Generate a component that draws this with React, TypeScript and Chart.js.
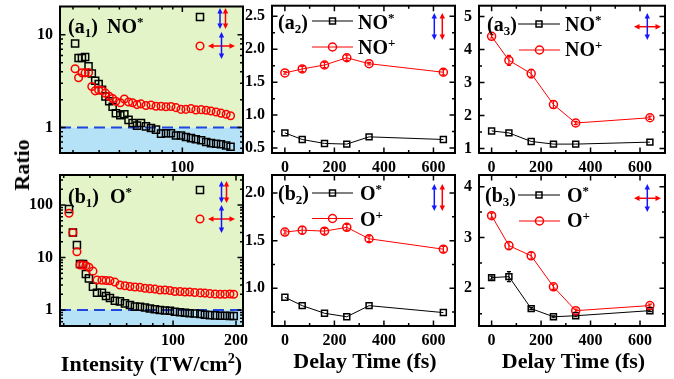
import React, { useEffect, useRef } from 'react';
import { Chart, registerables } from 'chart.js';

Chart.register(...registerables);

// ---------------- data ----------------
// (a1) NO* / NO+ vs intensity (TW/cm^2)
const a1Intensity = [30.7, 31.9, 33.1, 34.3, 35.6, 36.9, 38.3, 39.8, 41.3, 42.9, 44.7, 46.4, 48.1, 50.5, 52.8, 55.3, 57.8, 60.7, 63.4, 67.0, 70.8, 74.8, 79.1, 83.5, 88.2, 93.2, 98.5, 104, 110, 116, 123, 130, 137, 145, 153, 162, 170];
const a1NOstar = [8.05, 5.63, 5.63, 5.77, 4.57, 3.82, 3.2, 2.95, 2.55, 2.17, 1.92, 1.68, 1.43, 1.36, 1.39, 1.21, 1.12, 1.05, 1.12, 1.03, 0.99, 0.95, 0.86, 0.87, 0.87, 0.82, 0.82, 0.79, 0.77, 0.75, 0.73, 0.7, 0.68, 0.67, 0.66, 0.64, 0.62];
const a1NOplus = [4.31, 3.44, 3.89, 3.89, 3.91, 2.77, 2.49, 2.54, 2.51, 2.35, 2.17, 2.06, 1.92, 1.85, 2.03, 1.89, 1.85, 1.77, 1.8, 1.73, 1.75, 1.7, 1.7, 1.68, 1.69, 1.64, 1.57, 1.57, 1.6, 1.55, 1.56, 1.54, 1.51, 1.47, 1.43, 1.39, 1.34];

// (b1) O* / O+ vs intensity
const b1Intensity = [31.8, 33.2, 34.7, 35.9, 37.1, 38.3, 39.6, 41.4, 43.3, 45.7, 47.8, 49.9, 52.7, 55.7, 58.9, 62.2, 65.7, 69.5, 73.4, 77.5, 81.9, 86.5, 91.5, 96.6, 102, 108, 114, 120, 127, 135, 142, 150, 159, 168, 177, 187, 195];
const b1Ostar = [84, 30, 17.3, 7.5, 7.5, 4.85, 4.0, 2.78, 2.14, 2.14, 1.85, 1.7, 1.5, 1.46, 1.34, 1.25, 1.16, 1.15, 1.12, 1.07, 1.03, 1.0, 0.98, 0.97, 0.93, 0.91, 0.89, 0.87, 0.86, 0.84, 0.81, 0.8, 0.79, 0.78, 0.78, 0.77, 0.77];
const b1Oplus = [69.5, 30, 12.9, 7.2, 7.2, 7.0, 6.5, 5.5, 3.73, 3.7, 3.65, 3.6, 3.4, 3.0, 2.9, 2.8, 2.75, 2.7, 2.6, 2.55, 2.5, 2.4, 2.4, 2.35, 2.25, 2.25, 2.2, 2.2, 2.15, 2.12, 2.1, 2.05, 2.02, 2.0, 2.0, 2.02, 2.0];

// delay-time panels (fs)
const delayTimes = [0, 70, 160, 250, 340, 640];
const a2NOstar = [0.73, 0.63, 0.57, 0.56, 0.67, 0.63];
const a2NOplus = [1.64, 1.7, 1.76, 1.87, 1.78, 1.65];
const a2NOplusErr = [0.02, 0.04, 0.04, 0.04, 0.02, 0.04];
const a3NOstar = [1.53, 1.47, 1.21, 1.13, 1.13, 1.19];
const a3NOplus = [4.4, 3.67, 3.27, 2.33, 1.77, 1.93];
const a3NOplusErr = [0.05, 0.15, 0.13, 0.12, 0.05, 0.05];
const b2Ostar = [0.905, 0.817, 0.737, 0.7, 0.817, 0.744];
const b2Oplus = [1.59, 1.61, 1.6, 1.64, 1.52, 1.41];
const b2OplusErr = [0.02, 0.04, 0.03, 0.03, 0.03, 0.03];
const b3Ostar = [2.21, 2.23, 1.6, 1.44, 1.46, 1.56];
const b3OstarErr = [0.03, 0.1, 0.02, 0.02, 0.02, 0.02];
const b3Oplus = [3.43, 2.84, 2.64, 2.03, 1.56, 1.66];
const b3OplusErr = [0.05, 0.08, 0.07, 0.05, 0.03, 0.03];

// ticks
const a1XTicks = [100];
const a1XLabels = ['100'];
const a1XMinor = [30, 40, 50, 60, 70, 80, 90];
const a1YTicks = [1, 10];
const a1YLabels = ['1', '10'];
const a1YMinor = [0.6, 0.7, 0.8, 0.9, 2, 3, 4, 5, 6, 7, 8, 9, 20];
const b1XTicks = [100, 200];
const b1XLabels = ['100', '200'];
const b1XMinor = [30, 40, 50, 60, 70, 80, 90];
const b1YTicks = [1, 10, 100];
const b1YLabels = ['1', '10', '100'];
const b1YMinor = [0.5, 0.6, 0.7, 0.8, 0.9, 2, 3, 4, 5, 6, 7, 8, 9, 20, 30, 40, 50, 60, 70, 80, 90, 200, 300];
const delayXTicks = [0, 200, 400, 600];
const delayXLabels = ['0', '200', '400', '600'];
const delayXMinor = [100, 300, 500];
const a2YTicks = [0.5, 1.0, 1.5, 2.0, 2.5];
const a2YLabels = ['0.5', '1.0', '1.5', '2.0', '2.5'];
const a2YMinor = [0.75, 1.25, 1.75, 2.25];
const a3YTicks = [1, 2, 3, 4, 5];
const a3YLabels = ['1', '2', '3', '4', '5'];
const a3YMinor = [1.5, 2.5, 3.5, 4.5];
const b2YTicks = [1.0, 1.5, 2.0];
const b2YLabels = ['1.0', '1.5', '2.0'];
const b2YMinor = [0.75, 1.25, 1.75];
const b3YTicks = [2, 3, 4];
const b3YLabels = ['2', '3', '4'];
const b3YMinor = [1.5, 2.5, 3.5];

// ---------------- styling ----------------
const W = 674;
const H = 379;
const FONT = "'Liberation Serif','Times New Roman',Times,serif";
const RED = '#ff0000';
const BLACK = '#000000';
const BLUE = '#1717ff';
const DASH = '#1f46de';
const GREEN_BG = '#e2f4c8';
const BLUE_BG = '#b6e2f7';

const vArrow = (x: number, y1: number, y2: number, c: string) => ({ x1: x, y1, x2: x, y2, c });
const hArrow = (y: number, x1: number, x2: number, c: string) => ({ x1, y1: y, x2, y2: y, c });

const panels: any[] = [
  {
    id: 'a1', area: { left: 60, top: 3, right: 243, bottom: 153 }, shade: true,
    x: { type: 'logarithmic', min: 26, max: 195, major: a1XTicks, labels: a1XLabels, minor: a1XMinor },
    y: { type: 'logarithmic', min: 0.532, max: 20.2, major: a1YTicks, labels: a1YLabels, minor: a1YMinor },
    series: [
      { x: a1Intensity, y: a1NOplus, color: RED, marker: 'circle', r: 3.8, line: false },
      { x: a1Intensity, y: a1NOstar, color: BLACK, marker: 'rect', r: 5, line: false },
    ],
    legend: [
      { x1: 200, x2: 200, y: 17, marker: 'rect', color: BLACK, r: 5 },
      { x1: 200, x2: 200, y: 46, marker: 'circle', color: RED, r: 3.8 },
    ],
    arrows: [vArrow(220, 8, 29, BLUE), vArrow(225.5, 8, 29, RED), hArrow(46, 208, 235, RED), vArrow(221.5, 32, 59, BLUE)],
  },
  {
    id: 'b1', area: { left: 60, top: 175, right: 243, bottom: 326 }, shade: true,
    x: { type: 'logarithmic', min: 28.8, max: 216, major: b1XTicks, labels: b1XLabels, minor: b1XMinor },
    y: { type: 'logarithmic', min: 0.496, max: 373, major: b1YTicks, labels: b1YLabels, minor: b1YMinor },
    series: [
      { x: b1Intensity, y: b1Oplus, color: RED, marker: 'circle', r: 3.8, line: false },
      { x: b1Intensity, y: b1Ostar, color: BLACK, marker: 'rect', r: 5, line: false },
    ],
    legend: [
      { x1: 200, x2: 200, y: 190, marker: 'rect', color: BLACK, r: 5 },
      { x1: 200, x2: 200, y: 219, marker: 'circle', color: RED, r: 3.8 },
    ],
    arrows: [vArrow(221.5, 181, 203, BLUE), vArrow(226.5, 181, 203, RED), hArrow(219, 208, 235, RED), vArrow(221.5, 205, 233, BLUE)],
  },
  {
    id: 'a2', area: { left: 272, top: 3, right: 455, bottom: 153 },
    x: { type: 'linear', min: -52, max: 687, major: delayXTicks, labels: delayXLabels, minor: delayXMinor },
    y: { type: 'linear', min: 0.425, max: 2.66, major: a2YTicks, labels: a2YLabels, minor: a2YMinor },
    series: [
      { x: delayTimes, y: a2NOplus, err: a2NOplusErr, color: RED, marker: 'circle', r: 4, line: true },
      { x: delayTimes, y: a2NOstar, color: BLACK, marker: 'rect', r: 4.2, line: true },
    ],
    legend: [
      { x1: 312, x2: 353, y: 21, marker: 'rect', color: BLACK, r: 4.2 },
      { x1: 312, x2: 353, y: 47, marker: 'circle', color: RED, r: 4 },
    ],
    arrows: [vArrow(434.3, 13, 40, BLUE), vArrow(442.3, 13, 40, RED)],
  },
  {
    id: 'b2', area: { left: 272, top: 175, right: 455, bottom: 326 },
    x: { type: 'linear', min: -52, max: 687, major: delayXTicks, labels: delayXLabels, minor: delayXMinor },
    y: { type: 'linear', min: 0.603, max: 2.19, major: b2YTicks, labels: b2YLabels, minor: b2YMinor },
    series: [
      { x: delayTimes, y: b2Oplus, err: b2OplusErr, color: RED, marker: 'circle', r: 4, line: true },
      { x: delayTimes, y: b2Ostar, color: BLACK, marker: 'rect', r: 4.2, line: true },
    ],
    legend: [
      { x1: 312, x2: 353, y: 193, marker: 'rect', color: BLACK, r: 4.2 },
      { x1: 312, x2: 353, y: 218.5, marker: 'circle', color: RED, r: 4 },
    ],
    arrows: [vArrow(434.3, 184, 211, BLUE), vArrow(442.3, 184, 211, RED)],
  },
  {
    id: 'a3', area: { left: 479, top: 3, right: 665, bottom: 153 },
    x: { type: 'linear', min: -51, max: 701, major: delayXTicks, labels: delayXLabels, minor: delayXMinor },
    y: { type: 'linear', min: 0.86, max: 5.33, major: a3YTicks, labels: a3YLabels, minor: a3YMinor },
    series: [
      { x: delayTimes, y: a3NOplus, err: a3NOplusErr, color: RED, marker: 'circle', r: 4, line: true },
      { x: delayTimes, y: a3NOstar, color: BLACK, marker: 'rect', r: 4.2, line: true },
    ],
    legend: [
      { x1: 518, x2: 560, y: 24, marker: 'rect', color: BLACK, r: 4.2 },
      { x1: 519, x2: 560, y: 50, marker: 'circle', color: RED, r: 4 },
    ],
    arrows: [hArrow(26.7, 634, 661, RED), vArrow(647.3, 13, 40, BLUE)],
  },
  {
    id: 'b3', area: { left: 479, top: 175, right: 665, bottom: 326 },
    x: { type: 'linear', min: -51, max: 701, major: delayXTicks, labels: delayXLabels, minor: delayXMinor },
    y: { type: 'linear', min: 1.258, max: 4.23, major: b3YTicks, labels: b3YLabels, minor: b3YMinor },
    series: [
      { x: delayTimes, y: b3Oplus, err: b3OplusErr, color: RED, marker: 'circle', r: 4, line: true },
      { x: delayTimes, y: b3Ostar, err: b3OstarErr, color: BLACK, marker: 'rect', r: 4.2, line: true },
    ],
    legend: [
      { x1: 518, x2: 560, y: 195, marker: 'rect', color: BLACK, r: 4.2 },
      { x1: 519, x2: 560, y: 221, marker: 'circle', color: RED, r: 4 },
    ],
    arrows: [hArrow(198.3, 634, 661, RED), vArrow(647.3, 184, 212, BLUE)],
  },
];

// ---------------- drawing helpers ----------------
function drawMarker(ctx: CanvasRenderingContext2D, style: string, x: number, y: number, r: number, color: string) {
  ctx.save();
  ctx.strokeStyle = color;
  ctx.lineWidth = 1.5;
  ctx.beginPath();
  if (style === 'rect') {
    const s = r * Math.SQRT1_2;
    ctx.rect(x - s, y - s, 2 * s, 2 * s);
  } else {
    ctx.arc(x, y, r, 0, Math.PI * 2);
  }
  ctx.stroke();
  ctx.restore();
}

function drawDoubleArrow(ctx: CanvasRenderingContext2D, a: any) {
  const { x1, y1, x2, y2, c } = a;
  const ang = Math.atan2(y2 - y1, x2 - x1);
  const cs = Math.cos(ang), sn = Math.sin(ang);
  const hl = 5.5, hw = 2.7;
  ctx.save();
  ctx.strokeStyle = c;
  ctx.fillStyle = c;
  ctx.lineWidth = 1.5;
  ctx.beginPath();
  ctx.moveTo(x1 + cs * hl * 0.8, y1 + sn * hl * 0.8);
  ctx.lineTo(x2 - cs * hl * 0.8, y2 - sn * hl * 0.8);
  ctx.stroke();
  const head = (tx: number, ty: number, dx: number, dy: number) => {
    const bx = tx - dx * hl, by = ty - dy * hl;
    ctx.beginPath();
    ctx.moveTo(tx, ty);
    ctx.lineTo(bx - dy * hw, by + dx * hw);
    ctx.lineTo(bx + dy * hw, by - dx * hw);
    ctx.closePath();
    ctx.fill();
  };
  head(x2, y2, cs, sn);
  head(x1, y1, -cs, -sn);
  ctx.restore();
}

function panelPlugin(p: any) {
  return {
    id: 'panel_' + p.id,
    beforeDatasetsDraw(chart: any) {
      const { ctx, chartArea: a, scales } = chart;
      const xs = scales.x, ys = scales.y;
      ctx.save();
      if (p.shade) {
        const y1 = ys.getPixelForValue(1);
        ctx.fillStyle = GREEN_BG;
        ctx.fillRect(a.left, a.top, a.right - a.left, y1 - a.top);
        ctx.fillStyle = BLUE_BG;
        ctx.fillRect(a.left, y1, a.right - a.left, a.bottom - y1);
        ctx.setLineDash([11, 6]);
        ctx.strokeStyle = DASH;
        ctx.lineWidth = 2;
        ctx.beginPath();
        ctx.moveTo(a.left, y1);
        ctx.lineTo(a.right, y1);
        ctx.stroke();
        ctx.setLineDash([]);
      }
      p.series.forEach((s: any) => {
        if (!s.err) return;
        ctx.strokeStyle = s.color;
        ctx.lineWidth = 1.2;
        s.x.forEach((xv: number, i: number) => {
          const e = s.err[i];
          if (!e) return;
          const px = xs.getPixelForValue(xv);
          const t = ys.getPixelForValue(s.y[i] + e);
          const b = ys.getPixelForValue(s.y[i] - e);
          ctx.beginPath();
          ctx.moveTo(px, t); ctx.lineTo(px, b);
          ctx.moveTo(px - 2, t); ctx.lineTo(px + 2, t);
          ctx.moveTo(px - 2, b); ctx.lineTo(px + 2, b);
          ctx.stroke();
        });
      });
      ctx.restore();
    },
    afterDraw(chart: any) {
      const { ctx, chartArea: a, scales } = chart;
      const xs = scales.x, ys = scales.y;
      ctx.save();
      ctx.strokeStyle = '#000';
      ctx.lineWidth = 1.5;
      const tickX = (vals: number[], len: number) => vals.forEach((v) => {
        const px = xs.getPixelForValue(v);
        if (px < a.left + 1 || px > a.right - 1) return;
        ctx.beginPath();
        ctx.moveTo(px, a.bottom); ctx.lineTo(px, a.bottom - len);
        ctx.moveTo(px, a.top); ctx.lineTo(px, a.top + len);
        ctx.stroke();
      });
      const tickY = (vals: number[], len: number) => vals.forEach((v) => {
        const py = ys.getPixelForValue(v);
        if (py < a.top + 1 || py > a.bottom - 1) return;
        ctx.beginPath();
        ctx.moveTo(a.left, py); ctx.lineTo(a.left + len, py);
        ctx.moveTo(a.right, py); ctx.lineTo(a.right - len, py);
        ctx.stroke();
      });
      tickX(p.x.major, 5.5);
      tickX(p.x.minor, 3);
      tickY(p.y.major, 5.5);
      tickY(p.y.minor, 3);
      ctx.lineWidth = 2;
      ctx.strokeRect(a.left, a.top, a.right - a.left, a.bottom - a.top);
      // legend samples
      p.legend.forEach((l: any) => {
        if (l.x2 > l.x1) {
          ctx.strokeStyle = l.color;
          ctx.lineWidth = 1;
          ctx.beginPath();
          ctx.moveTo(l.x1, l.y); ctx.lineTo(l.x2, l.y);
          ctx.stroke();
        }
        drawMarker(ctx, l.marker, (l.x1 + l.x2) / 2, l.y, l.r, l.color);
      });
      p.arrows.forEach((ar: any) => drawDoubleArrow(ctx, ar));
      ctx.restore();
    },
  };
}

function axisOptions(ax: any, horizontal: boolean, size: number) {
  return {
    type: ax.type,
    min: ax.min,
    max: ax.max,
    position: horizontal ? 'bottom' : 'left',
    grid: { display: false, drawTicks: false },
    border: { display: false },
    ticks: {
      autoSkip: false,
      maxRotation: 0,
      minRotation: 0,
      padding: horizontal ? 5 : 7,
      color: '#000',
      font: { family: FONT, size: 16, weight: 'bold' },
      callback: (_v: any, i: number) => ax.labels[i] ?? '',
    },
    afterBuildTicks: (s: any) => {
      s.ticks = ax.major.map((v: number) => ({ value: v }));
    },
    afterFit: (s: any) => {
      if (horizontal) s.height = size;
      else s.width = size;
      s.paddingLeft = 0;
      s.paddingRight = 0;
      s.paddingTop = 0;
      s.paddingBottom = 0;
    },
  };
}

function buildConfig(p: any): any {
  const yW = 45;
  const xH = 30;
  return {
    type: 'scatter',
    data: {
      datasets: p.series.map((s: any) => ({
        data: s.x.map((xv: number, i: number) => ({ x: xv, y: s.y[i] })),
        showLine: s.line,
        borderColor: s.color,
        borderWidth: 1,
        backgroundColor: 'rgba(0,0,0,0)',
        pointStyle: s.marker,
        pointRadius: s.r,
        pointBorderWidth: 1.5,
        pointBorderColor: s.color,
        pointBackgroundColor: 'rgba(0,0,0,0)',
        fill: false,
        tension: 0,
      })),
    },
    options: {
      responsive: false,
      maintainAspectRatio: false,
      animation: false,
      devicePixelRatio: 1,
      events: [],
      layout: {
        padding: {
          left: p.area.left - yW,
          top: p.area.top,
          right: W - p.area.right,
          bottom: H - p.area.bottom - xH,
        },
      },
      plugins: { legend: { display: false }, tooltip: { enabled: false } },
      scales: {
        x: axisOptions(p.x, true, xH),
        y: axisOptions(p.y, false, yW),
      },
    },
    plugins: [panelPlugin(p)],
  };
}

// ---------------- text ----------------
const Txt = ({ x, y, size = 20, center = false, children }: any) => (
  <div
    style={{
      position: 'absolute',
      left: x,
      top: y - size * 0.8375,
      fontFamily: FONT,
      fontWeight: 'bold',
      fontSize: size,
      lineHeight: `${size}px`,
      whiteSpace: 'nowrap',
      color: '#000',
      transform: center ? 'translateX(-50%)' : undefined,
    }}
  >
    {children}
  </div>
);
const Sup = ({ children }: any) => (
  <span style={{ fontSize: '0.65em', position: 'relative', top: '-0.55em' }}>{children}</span>
);
const Sub = ({ children }: any) => (
  <span style={{ fontSize: '0.65em', position: 'relative', top: '0.3em' }}>{children}</span>
);

export default function App() {
  const canvases = useRef<(HTMLCanvasElement | null)[]>([]);

  useEffect(() => {
    const charts = panels.map((p, i) => new Chart(canvases.current[i] as HTMLCanvasElement, buildConfig(p)));
    return () => charts.forEach((c) => c.destroy());
  }, []);

  return (
    <div style={{ position: 'fixed', left: 0, top: 0, width: W, height: H, background: '#fff', overflow: 'hidden' }}>
      {panels.map((p, i) => (
        <canvas
          key={p.id}
          ref={(el) => { canvases.current[i] = el; }}
          width={W}
          height={H}
          style={{ position: 'absolute', left: 0, top: 0, width: W, height: H }}
        />
      ))}

      {/* panel labels / legends */}
      <Txt x={68} y={33}>(a<Sub>1</Sub>)</Txt>
      <Txt x={107} y={33}>NO<Sup>*</Sup></Txt>
      <Txt x={68} y={203}>(b<Sub>1</Sub>)</Txt>
      <Txt x={110} y={203}>O<Sup>*</Sup></Txt>

      <Txt x={278} y={28.5}>(a<Sub>2</Sub>)</Txt>
      <Txt x={358} y={28.5}>NO<Sup>*</Sup></Txt>
      <Txt x={358} y={54}>NO<Sup>+</Sup></Txt>
      <Txt x={278} y={200}>(b<Sub>2</Sub>)</Txt>
      <Txt x={360} y={200}>O<Sup>*</Sup></Txt>
      <Txt x={360} y={225.5}>O<Sup>+</Sup></Txt>

      <Txt x={487} y={31}>(a<Sub>3</Sub>)</Txt>
      <Txt x={565} y={31}>NO<Sup>*</Sup></Txt>
      <Txt x={565} y={56}>NO<Sup>+</Sup></Txt>
      <Txt x={485} y={202}>(b<Sub>3</Sub>)</Txt>
      <Txt x={567} y={202}>O<Sup>*</Sup></Txt>
      <Txt x={567} y={227}>O<Sup>+</Sup></Txt>

      {/* axis titles */}
      <Txt x={151.5} y={371} size={22} center>Intensity (TW/cm<Sup>2</Sup>)</Txt>
      <Txt x={365} y={368} size={22} center>Delay Time (fs)</Txt>
      <Txt x={573.5} y={368} size={22} center>Delay Time (fs)</Txt>
      <div
        style={{
          position: 'absolute',
          left: 22,
          top: 165,
          transform: 'translate(-50%, -50%) rotate(-90deg)',
          fontFamily: FONT,
          fontWeight: 'bold',
          fontSize: 22,
          lineHeight: '22px',
          whiteSpace: 'nowrap',
          color: '#000',
        }}
      >
        Ratio
      </div>
    </div>
  );
}
